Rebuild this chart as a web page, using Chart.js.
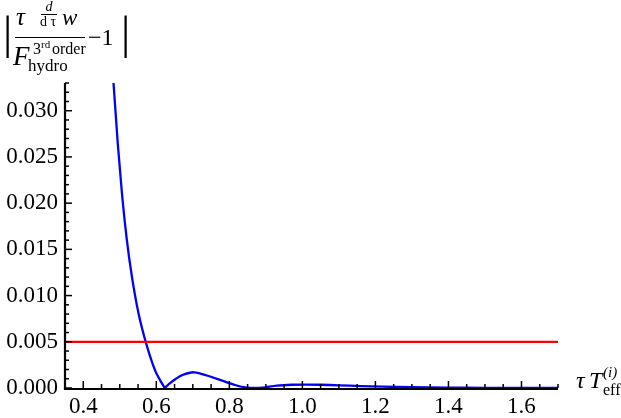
<!DOCTYPE html>
<html>
<head>
<meta charset="utf-8">
<script src="https://cdn.jsdelivr.net/npm/chart.js@4"></script>
<style>
  html, body { margin: 0; padding: 0; background: #fff; }
  #wrap { width: 621px; height: 418px; position: relative; }
</style>
</head>
<body>
<div id="wrap"><canvas id="c" width="621" height="418"></canvas></div>
<script>
// ---- data ----
// steep falling branch (ends at the cusp where the quantity crosses zero)
const branch1X = [0.478, 0.4828, 0.4946, 0.5065, 0.5194, 0.5330, 0.5517, 0.5746, 0.5978, 0.611, 0.6234];
const branch1Y = [0.0359, 0.0330, 0.0264, 0.0208, 0.0160, 0.0121, 0.0080, 0.0045, 0.0018, 0.0008, 0.0];
// oscillating tail (starts at the cusp)
const branch2X = [0.6234, 0.635, 0.653, 0.671, 0.703, 0.754, 0.818, 0.850, 0.870, 0.890,
  0.930, 0.970, 1.010, 1.050, 1.100, 1.160, 1.220, 1.300, 1.400, 1.500, 1.600, 1.700];
const branch2Y = [0.0, 0.00045, 0.00098, 0.0014, 0.0017, 0.00116, 0.0003, 0.00003, 0.0, 0.00003,
  0.00025, 0.00035, 0.00037, 0.00035, 0.00029, 0.00021, 0.00014, 0.00008, 0.00004, 0.00002, 0.00001, 0.00001];
const thresholdX = [0.35, 1.7];
const thresholdY = [0.005, 0.005];
const xRange = [0.35, 1.7];
const yRange = [0, 0.033];
const xMajorStep = 0.2, xMinorStep = 0.05;
const yMajorStep = 0.005, yMinorStep = 0.001;

const toPts = (xs, ys) => xs.map((x, i) => ({x: x, y: ys[i]}));

const SERIF = '"Liberation Serif", "DejaVu Serif", serif';

// inward tick marks, drawn through the chart's scales
const tickPlugin = {
  id: 'inwardTicks',
  afterDatasetsDraw(chart) {
    const ctx = chart.ctx, xs = chart.scales.x, ys = chart.scales.y, a = chart.chartArea;
    ctx.save();
    ctx.strokeStyle = '#000';
    ctx.lineWidth = 1.5;
    const nx = Math.round((xRange[1] - xRange[0]) / xMinorStep);
    for (let i = 0; i <= nx; i++) {
      const v = xRange[0] + i * xMinorStep;
      const major = Math.abs(v / xMajorStep - Math.round(v / xMajorStep)) < 1e-6;
      const px = xs.getPixelForValue(v);
      const len = major ? 7 : 4;
      ctx.beginPath(); ctx.moveTo(px, a.bottom); ctx.lineTo(px, a.bottom - len); ctx.stroke();
    }
    const ny = Math.round((yRange[1] - yRange[0]) / yMinorStep);
    for (let i = 0; i <= ny; i++) {
      const v = yRange[0] + i * yMinorStep;
      const major = Math.abs(v / yMajorStep - Math.round(v / yMajorStep)) < 1e-6;
      const py = ys.getPixelForValue(v);
      const len = major ? 7 : 4;
      ctx.beginPath(); ctx.moveTo(a.left, py); ctx.lineTo(a.left + len, py); ctx.stroke();
    }
    ctx.lineWidth = 2.2;
    ctx.beginPath(); ctx.moveTo(a.left, a.top); ctx.lineTo(a.left, a.bottom + 1); ctx.lineTo(a.right, a.bottom + 1); ctx.stroke();
    ctx.restore();
  }
};

// axis titles (mathematical labels)
const titlePlugin = {
  id: 'mathTitles',
  afterDraw(chart) {
    const ctx = chart.ctx;
    ctx.save();
    ctx.fillStyle = '#000';
    ctx.strokeStyle = '#000';
    ctx.textBaseline = 'alphabetic';
    ctx.textAlign = 'left';
    const t = (s, x, y, size, italic) => {
      ctx.font = (italic ? 'italic ' : '') + size + 'px ' + SERIF;
      ctx.fillText(s, x, y);
    };
    // |  ... |
    t('|', 3, 48, 46, false);
    t('|', 121, 48, 46, false);
    // numerator
    t('τ', 16, 25, 25, true);
    ctx.textAlign = 'center';
    t('d', 49, 11, 14, true);
    t('d τ', 48, 26, 14, false);
    ctx.textAlign = 'left';
    t('w', 62, 25, 23, true);
    ctx.lineWidth = 1;
    ctx.beginPath(); ctx.moveTo(41, 14.5); ctx.lineTo(57, 14.5); ctx.stroke();
    ctx.beginPath(); ctx.moveTo(15, 37.5); ctx.lineTo(85, 37.5); ctx.stroke();
    // denominator
    t('F', 13, 65, 27, true);
    t('3', 33, 54, 16, false);
    t('rd', 41, 48, 11, false);
    t('order', 52, 54, 16, false);
    t('hydro', 28, 71, 17, false);
    // -1
    t('\u22121', 88, 45, 24, false);

    // x-axis label
    t('τ', 576, 388, 24, true);
    t('T', 589, 388, 24, true);
    t('(i)', 603, 377, 15, true);
    t('eff', 603, 395, 16, false);
    ctx.restore();
  }
};

new Chart(document.getElementById('c'), {
  type: 'scatter',
  data: {
    datasets: [
      { data: toPts(thresholdX, thresholdY), showLine: true, borderColor: 'rgb(255,0,0)', borderWidth: 2.2, pointRadius: 0, tension: 0 },
      { data: toPts(branch1X, branch1Y), showLine: true, borderColor: 'rgb(0,0,255)', borderWidth: 2.3, pointRadius: 0, cubicInterpolationMode: 'monotone' },
      { data: toPts(branch2X, branch2Y), showLine: true, borderColor: 'rgb(0,0,255)', borderWidth: 2.3, pointRadius: 0, tension: 0.3 }
    ]
  },
  options: {
    responsive: false,
    animation: false,
    events: [],
    layout: { padding: { top: 83, right: 63, left: 0, bottom: 0 } },
    plugins: { legend: { display: false }, tooltip: { enabled: false } },
    scales: {
      x: {
        type: 'linear', min: xRange[0], max: xRange[1],
        grid: { display: false, drawTicks: false },
        border: { display: false },
        afterFit(s) { s.height = 30; },
        ticks: {
          stepSize: xMajorStep, includeBounds: false, padding: 5, color: '#000',
          font: { family: SERIF, size: 23 },
          maxRotation: 0, autoSkip: false,
          callback: v => Number(v).toFixed(1)
        }
      },
      y: {
        type: 'linear', min: yRange[0], max: yRange[1],
        grid: { display: false, drawTicks: false },
        border: { display: false },
        afterFit(s) { s.width = 65; },
        ticks: {
          stepSize: yMajorStep, includeBounds: false, padding: 7, color: '#000',
          font: { family: SERIF, size: 23 },
          autoSkip: false,
          callback: v => Number(v).toFixed(3)
        }
      }
    }
  },
  plugins: [tickPlugin, titlePlugin]
});
</script>
</body>
</html>
